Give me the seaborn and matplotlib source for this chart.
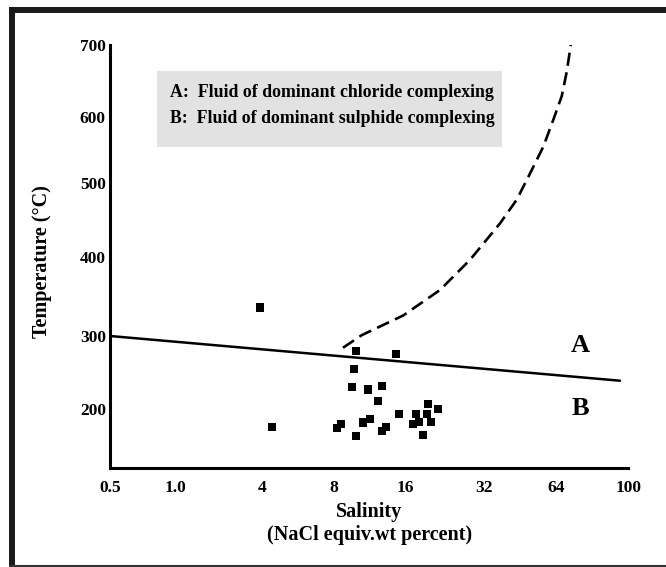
import numpy as np
import pandas as pd
import matplotlib.pyplot as plt
import seaborn as sns
from matplotlib.patches import Rectangle
from matplotlib.lines import Line2D

# dati: salinita (NaCl eq. wt%) e temperatura (C)
salinity = [3.89, 9.88, 14.66, 9.69, 9.50, 11.10, 12.72, 12.30, 15.0, 19.57,
            21.38, 17.53, 19.40, 18.09, 20.0, 17.07, 18.69, 8.54, 8.21, 11.35,
            10.64, 13.22, 12.72, 9.91, 4.40]
temperature = [336, 279, 276, 255, 230, 227, 232, 211, 194, 207,
               201, 194, 194, 183, 183, 180, 165, 180, 174, 187,
               182, 176, 170, 163, 176]

# linea di separazione A/B
split_x = [0.5, 95.0]
split_y = [300, 239]

# curva tratteggiata
curve_x = [8.73, 10.47, 15.70, 21.69, 28.22, 37.27, 43.83, 49.86, 56.73, 62.5, 66.4, 68.5, 70.2]
curve_y = [284, 301, 326, 358, 396, 445, 477, 514, 555, 596, 629, 663, 700]

xtick_vals = [0.5, 1, 4, 8, 16, 32, 64, 100]
xtick_labels = ['0.5', '1.0', '4', '8', '16', '32', '64', '100']
ytick_vals = [200, 300, 400, 500, 600, 700]

# scala irregolare degli assi (come nel disegno originale)
x_anchor = np.array([0.5, 1, 4, 8, 16, 32, 64, 100])
x_pos = np.array([110, 175.7, 261.7, 334, 405.3, 484.3, 555.7, 628.3])
y_anchor = np.array([120, 200, 300, 400, 500, 600, 700])
y_pos = -np.array([468, 409.3, 336, 256.7, 182.7, 117.3, 45])


def fwd_x(v):
    v = np.clip(np.asarray(v, dtype=float), 1e-9, None)
    return np.interp(np.log(v), np.log(x_anchor), x_pos)


def inv_x(p):
    return np.exp(np.interp(np.asarray(p, dtype=float), x_pos, np.log(x_anchor)))


def fwd_y(v):
    return np.interp(np.asarray(v, dtype=float), y_anchor, y_pos)


def inv_y(p):
    return np.interp(np.asarray(p, dtype=float), y_pos, y_anchor)


sns.set_theme(style='white')
plt.rcParams['font.family'] = ['Liberation Serif', 'DejaVu Serif']
plt.rcParams['font.weight'] = 'bold'
plt.rcParams['text.color'] = 'black'
plt.rcParams['axes.labelcolor'] = 'black'
plt.rcParams['xtick.color'] = 'black'
plt.rcParams['ytick.color'] = 'black'

fig = plt.figure(figsize=(6.66, 5.67), dpi=100)
ax = fig.add_axes([110 / 666, 1 - 468 / 567, (628.3 - 110) / 666, (468 - 45) / 567])
ax.set_xscale('function', functions=(fwd_x, inv_x))
ax.set_yscale('function', functions=(fwd_y, inv_y))

df = pd.DataFrame({'Salinity': salinity, 'Temperature': temperature})
sns.scatterplot(data=df, x='Salinity', y='Temperature', marker='s', s=34,
                color='black', edgecolor='none', ax=ax, zorder=3)
sns.lineplot(x=split_x, y=split_y, color='black', linewidth=1.8,
             estimator=None, sort=False, ax=ax)
sns.lineplot(x=curve_x, y=curve_y, color='black', linewidth=1.9,
             estimator=None, sort=False, ax=ax, dashes=False,
             linestyle=(0, (5, 2.5)))

ax.set_xlim(0.5, 100)
ax.set_ylim(120, 700)
ax.set_xticks(xtick_vals)
ax.set_xticklabels(xtick_labels)
ax.set_yticks(ytick_vals)
ax.set_yticklabels([str(v) for v in ytick_vals])
ax.minorticks_off()

for side in ['top', 'right']:
    ax.spines[side].set_visible(False)
for side in ['left', 'bottom']:
    ax.spines[side].set_linewidth(2.2)
    ax.spines[side].set_color('black')
ax.tick_params(axis='x', direction='in', length=4, width=1.3,
               pad=9, labelsize=12.5)
ax.tick_params(axis='y', direction='in', length=4, width=1.3,
               pad=3, labelsize=12.5)
for lab in ax.get_xticklabels() + ax.get_yticklabels():
    lab.set_fontweight('bold')

ax.set_xlabel('Salinity\n(NaCl equiv.wt percent)', fontsize=14.5, fontweight='bold',
              linespacing=1.2, labelpad=4)
ax.set_ylabel('Temperature (°C)', fontsize=14.5, fontweight='bold')
ax.yaxis.set_label_coords(-0.112, 0.487)

# etichette dei campi A e B
ax.text(0.908, 0.29, 'A', transform=ax.transAxes, fontsize=19,
        fontweight='bold', ha='center', va='center')
ax.text(0.907, 0.14, 'B', transform=ax.transAxes, fontsize=19,
        fontweight='bold', ha='center', va='center')

# riquadro della legenda
fig.add_artist(Rectangle((157 / 666, 1 - 146.7 / 567), (501.7 - 157) / 666, 76 / 567,
                         transform=fig.transFigure, facecolor='#e2e2e2',
                         edgecolor='none', zorder=1))
fig.text(170 / 666, 1 - 92.7 / 567, 'A:  Fluid of dominant chloride complexing',
         fontsize=12.8, fontweight='bold', va='center', ha='left', zorder=2)
fig.text(170 / 666, 1 - 118.3 / 567, 'B:  Fluid of dominant sulphide complexing',
         fontsize=12.8, fontweight='bold', va='center', ha='left', zorder=2)

# cornice esterna
fig.add_artist(Line2D([9 / 666, 1], [1 - 10 / 567] * 2, transform=fig.transFigure,
                      color='#1a1a1a', linewidth=4.3, solid_capstyle='butt'))
fig.add_artist(Line2D([12 / 666] * 2, [0, 1 - 7 / 567], transform=fig.transFigure,
                      color='#1a1a1a', linewidth=4.3, solid_capstyle='butt'))
fig.add_artist(Line2D([9 / 666, 1], [1 - 566 / 567] * 2, transform=fig.transFigure,
                      color='#333333', linewidth=1.5, solid_capstyle='butt'))

fig.savefig('out.png', dpi=100)
